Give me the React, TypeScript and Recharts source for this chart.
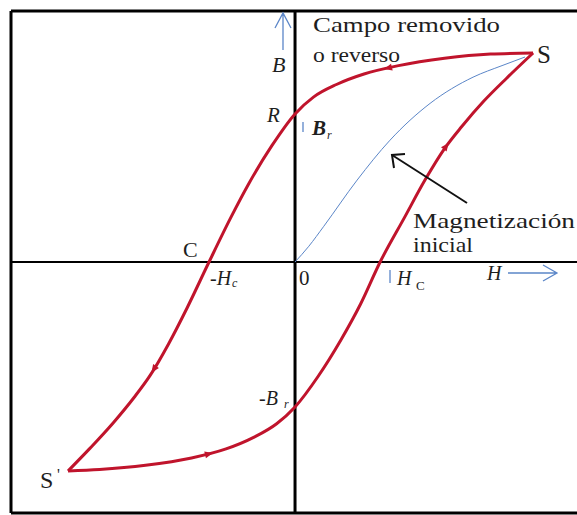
import { ComposedChart, Line, Scatter, XAxis, YAxis, ReferenceLine } from 'recharts';

// Hysteresis loop, field H vs flux density B (arbitrary units)
// descending branch: S -> Br -> -Hc -> S'  (listed by increasing H)
const upperH = [-9.87, -8.9, -7.9, -7.0, -6.3, -5.5, -4.7, -3.74, -2.8, -2.0, -1.0, 0, 0.8, 1.8, 3.0, 4.5, 6.5, 8.5, 10.35];
const upperB = [-9.95, -8.85, -7.65, -6.45, -5.4, -3.9, -2.2, 0, 2.1, 3.75, 5.55, 7.05, 7.85, 8.45, 8.95, 9.35, 9.7, 9.9, 9.95];

// ascending branch: S' -> -Br -> Hc -> S
const lowerH = [-9.87, -8.5, -6.5, -4.5, -3.0, -1.8, -0.8, 0, 1.0, 2.0, 2.85, 3.7, 4.75, 5.65, 6.5, 7.25, 8.2, 9.2, 10.35];
const lowerB = [-9.95, -9.88, -9.68, -9.33, -8.9, -8.35, -7.7, -6.9, -5.45, -3.7, -2.0, 0, 2.1, 3.9, 5.4, 6.45, 7.65, 8.75, 9.95];

// initial magnetization curve from the origin up to S
const initH = [0, 0.6, 1.25, 2.7, 4.13, 5.87, 7.74, 9.0, 10.0];
const initB = [0, 0.75, 1.7, 3.9, 5.8, 7.55, 8.8, 9.35, 9.76];

// direction markers along the loop
const arrowH = [4.0, -6.17, -3.7, 6.6];
const arrowB = [9.22, -5.15, -9.13, 5.55];
const arrowAngle = [166, 125, -14, -53];

const X_DOMAIN: [number, number] = [-12.35, 12.26];
const Y_DOMAIN: [number, number] = [-11.95, 11.95];

const RED = '#c0142c';
const BLUE = '#5b86c8';
const INK = '#1e1e1e';

const toPoints = (hs: number[], bs: number[]) => hs.map((h, i) => ({ h, b: bs[i] }));

const upper = toPoints(upperH, upperB);
const lower = toPoints(lowerH, lowerB);
const initial = toPoints(initH, initB);
const arrows = arrowH.map((h, i) => ({ h, b: arrowB[i], angle: arrowAngle[i] }));

const ArrowHead = (props: any) => {
  const { cx, cy, payload } = props;
  return (
    <path
      d="M3,0 L-5,-3.5 L-5,3.5 Z"
      fill={RED}
      transform={`translate(${cx},${cy}) rotate(${payload.angle})`}
    />
  );
};

const serif = '"Liberation Serif", "DejaVu Serif", serif';

export default function App() {
  return (
    <div style={{ position: 'absolute', left: 0, top: 0, width: 577, height: 515, background: '#fff', overflow: 'hidden' }}>
      <ComposedChart width={577} height={515} margin={{ top: 11, right: 0, bottom: 2, left: 11 }}>
        <XAxis type="number" dataKey="h" domain={X_DOMAIN} hide allowDataOverflow />
        <YAxis type="number" domain={Y_DOMAIN} hide allowDataOverflow />

        {/* frame */}
        <ReferenceLine x={X_DOMAIN[0]} stroke="#000" strokeWidth={3} ifOverflow="visible" />
        <ReferenceLine y={Y_DOMAIN[1]} stroke="#000" strokeWidth={3} ifOverflow="visible" />
        <ReferenceLine y={Y_DOMAIN[0]} stroke="#000" strokeWidth={3} ifOverflow="visible" />

        {/* H and B axes */}
        <ReferenceLine y={0} stroke="#000" strokeWidth={2} />
        <ReferenceLine x={0} stroke="#000" strokeWidth={3} />

        <Line data={initial} dataKey="b" type="monotone" stroke={BLUE} strokeWidth={1} dot={false} isAnimationActive={false} />
        <Line data={upper} dataKey="b" type="monotone" stroke={RED} strokeWidth={3} dot={false} isAnimationActive={false} />
        <Line data={lower} dataKey="b" type="monotone" stroke={RED} strokeWidth={3} dot={false} isAnimationActive={false} />
        <Scatter data={arrows} dataKey="b" shape={ArrowHead} isAnimationActive={false} />
      </ComposedChart>

      <svg width={577} height={515} style={{ position: 'absolute', left: 0, top: 0, pointerEvents: 'none' }}>
        <g fontFamily={serif} fill={INK}>
          <text x={313} y={32} fontSize={22} textLength={187} lengthAdjust="spacingAndGlyphs">Campo removido</text>
          <text x={313} y={62} fontSize={22} textLength={87} lengthAdjust="spacingAndGlyphs">o reverso</text>
          <text x={413} y={228} fontSize={22} textLength={162} lengthAdjust="spacingAndGlyphs">Magnetización</text>
          <text x={413} y={252} fontSize={22} textLength={60} lengthAdjust="spacingAndGlyphs">inicial</text>

          <text x={537} y={63} fontSize={25}>S</text>
          <text x={40} y={488} fontSize={24}>S</text>
          <text x={57} y={480} fontSize={16}>'</text>
          <text x={183} y={257} fontSize={22}>C</text>
          <text x={299} y={285} fontSize={21}>0</text>

          <text x={272} y={72} fontSize={22} fontStyle="italic">B</text>
          <text x={267} y={122} fontSize={21} fontStyle="italic">R</text>

          <text x={312} y={135} fontSize={21} fontStyle="italic" fontWeight="bold">B</text>
          <text x={327} y={139} fontSize={12} fontStyle="italic">r</text>

          <text x={210} y={285} fontSize={20} fontStyle="italic">-H</text>
          <text x={232} y={287} fontSize={12} fontStyle="italic">c</text>

          <text x={397} y={285} fontSize={20} fontStyle="italic">H</text>
          <text x={416} y={290} fontSize={13}>C</text>

          <text x={487} y={280} fontSize={20} fontStyle="italic">H</text>

          <text x={259} y={405} fontSize={20} fontStyle="italic">-B</text>
          <text x={284} y={408} fontSize={12} fontStyle="italic">r</text>
        </g>

        {/* small blue marks and axis arrows */}
        <g stroke={BLUE} fill="none" strokeWidth={1.3}>
          <line x1={303} y1={122} x2={303} y2={132} />
          <line x1={390} y1={270} x2={390} y2={283} />
          <path d="M283,50 L283,13 M275,28 L283,13 L291,28" />
          <path d="M508,273 L557,273 M543,265 L557,273 L543,281" />
        </g>

        {/* pointer to the initial magnetization curve */}
        <g stroke="#111" strokeWidth={2} fill="none">
          <path d="M467,203 L392,155" />
          <path d="M394,168 L392,155 L405,154" />
        </g>
      </svg>
    </div>
  );
}
